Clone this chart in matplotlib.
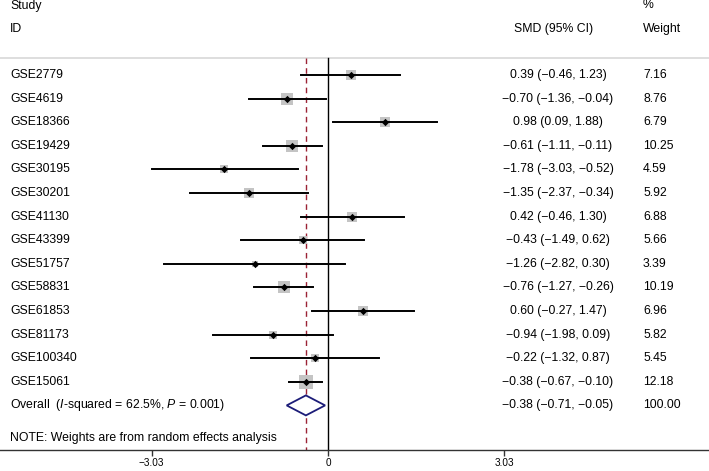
import matplotlib.pyplot as plt
import matplotlib.transforms as mtransforms

plt.rcParams['font.family'] = ['Liberation Sans', 'DejaVu Sans']
plt.rcParams['mathtext.fontset'] = 'custom'
plt.rcParams['mathtext.rm'] = 'Liberation Sans'
plt.rcParams['mathtext.it'] = 'Liberation Sans:italic'

# study data
studies = ['GSE2779', 'GSE4619', 'GSE18366', 'GSE19429', 'GSE30195', 'GSE30201',
           'GSE41130', 'GSE43399', 'GSE51757', 'GSE58831', 'GSE61853', 'GSE81173',
           'GSE100340', 'GSE15061']
smd = [0.39, -0.70, 0.98, -0.61, -1.78, -1.35, 0.42, -0.43, -1.26, -0.76, 0.60, -0.94, -0.22, -0.38]
lo = [-0.46, -1.36, 0.09, -1.11, -3.03, -2.37, -0.46, -1.49, -2.82, -1.27, -0.27, -1.98, -1.32, -0.67]
hi = [1.23, -0.04, 1.88, -0.11, -0.52, -0.34, 1.30, 0.62, 0.30, -0.26, 1.47, 0.09, 0.87, -0.10]
weight = [7.16, 8.76, 6.79, 10.25, 4.59, 5.92, 6.88, 5.66, 3.39, 10.19, 6.96, 5.82, 5.45, 12.18]

overall_smd, overall_lo, overall_hi = -0.38, -0.71, -0.05
overall_label = 'Overall  ($I$-squared = 62.5%, $P$ = 0.001)'
note = 'NOTE: Weights are from random effects analysis'
xticks = [-3.03, 0, 3.03]

W, H = 709, 471
fig = plt.figure(figsize=(W / 100, H / 100), dpi=100)
ax = fig.add_axes([0, 21 / H, 1, 450 / H])
# y in pixel rows from top; x in SMD units, 0 at px 328, 58.2 px per unit
ax.set_ylim(450, 0)
ax.set_xlim(-328 / 58.2, (W - 328) / 58.2)
tr = mtransforms.blended_transform_factory(ax.transAxes, ax.transData)

row_y = [75 + 23.6 * i for i in range(len(studies))]
overall_y = 75 + 23.6 * len(studies)

fs = 8.8
# header
ax.text(10 / W, 6, 'Study', transform=tr, fontsize=fs, va='center')
ax.text(10 / W, 29, 'ID', transform=tr, fontsize=fs, va='center')
ax.text(554 / W, 29, 'SMD (95% CI)', transform=tr, fontsize=fs, va='center', ha='center')
ax.text(643 / W, 5, '%', transform=tr, fontsize=fs, va='center')
ax.text(643 / W, 29, 'Weight', transform=tr, fontsize=fs, va='center')
ax.plot([0, 1], [58, 58], transform=tr, color='#d8d8d8', lw=1.2, clip_on=False)

# reference lines
ax.plot([0, 0], [58, 450], color='black', lw=1.0)
ax.plot([overall_smd, overall_smd], [58, 450], color='#9b2335', lw=1.0, ls=(0, (4, 3)))

def fmt(v):
    return f'{v:.2f}'.replace('-', '\u2212')

for name, y, m, l, h, w in zip(studies, row_y, smd, lo, hi, weight):
    ax.scatter([m], [y], marker='s', s=7.2 * w, color='#c4c4c4', lw=0, zorder=2)
    ax.plot([l, h], [y, y], color='black', lw=1.4, zorder=3)
    ax.scatter([m], [y], marker='D', s=14, color='black', lw=0, zorder=4)
    ax.text(10 / W, y, name, transform=tr, fontsize=fs, va='center')
    ax.text(558 / W, y, f'{fmt(m)} ({fmt(l)}, {fmt(h)})', transform=tr,
            fontsize=fs, va='center', ha='center')
    ax.text(643 / W, y, f'{w:.2f}', transform=tr, fontsize=fs, va='center')

# overall diamond
ax.fill([overall_lo, overall_smd, overall_hi, overall_smd],
        [overall_y, overall_y - 10, overall_y, overall_y + 10],
        facecolor='white', edgecolor='#1c1c78', lw=1.3, zorder=3)
ax.text(10 / W, overall_y, overall_label, transform=tr, fontsize=fs, va='center')
ax.text(558 / W, overall_y, f'{fmt(overall_smd)} ({fmt(overall_lo)}, {fmt(overall_hi)})',
        transform=tr, fontsize=fs, va='center', ha='center')
ax.text(643 / W, overall_y, '100.00', transform=tr, fontsize=fs, va='center')

ax.text(10 / W, 438, note, transform=tr, fontsize=fs, va='center')

# axis
for s in ['top', 'left', 'right']:
    ax.spines[s].set_visible(False)
ax.spines['bottom'].set_color('#333333')
ax.spines['bottom'].set_linewidth(1.0)
ax.set_yticks([])
ax.set_xticks(xticks)
ax.set_xticklabels([fmt(t) if t != 0 else '0' for t in xticks])
ax.tick_params(axis='x', direction='out', length=4, width=1, labelsize=7.2, pad=2, color='#333333')

fig.savefig('out.png', dpi=100)
